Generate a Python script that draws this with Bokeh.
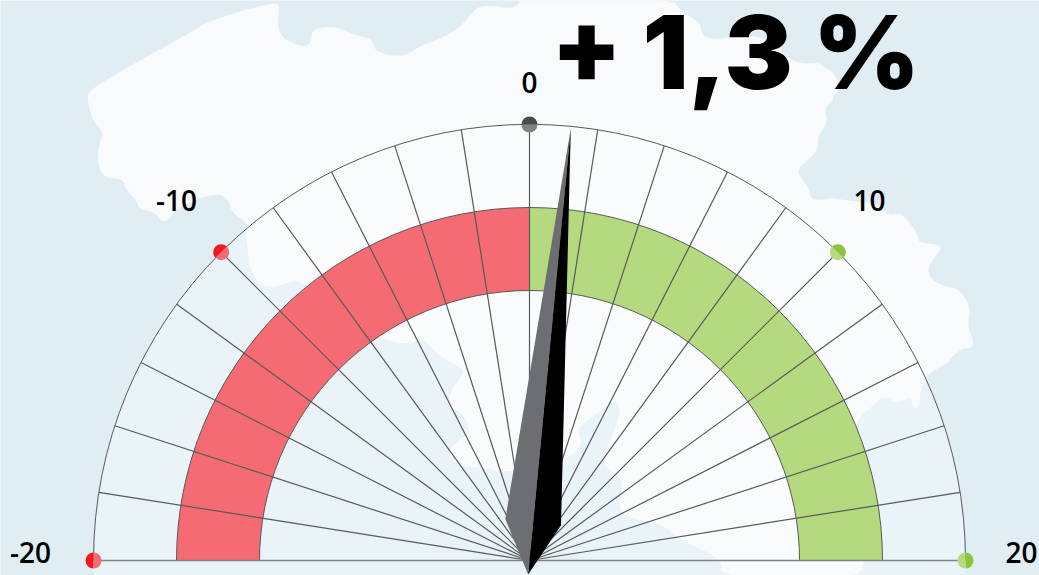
import math
from bokeh.plotting import figure
from bokeh.models import Range1d
from bokeh.core.properties import value
from bokeh.embed import file_html
from bokeh.resources import INLINE

W, H = 1039, 575

# Data
gauge_value = 1.3
headline = "+ 1,3 %"
scale_min, scale_max = -20, 20
spoke_values = list(range(-20, 21, 2))
label_values = [-20, -10, 0, 10, 20]
label_texts = ["-20", "-10", "0", "10", "20"]

# Colours
SEA = "#E0EDF3"
LAND = "#F8FAFC"
RED = "#F56B73"
GREEN = "#B5D97F"
LINE = "#58595B"
BASE = "#808285"
dot_dark = ["#ED1C24", "#ED1C24", "#4A4A4D", "#8CC63F", "#8CC63F"]
dot_light = ["#F56B73", "#F56B73", "#808285", "#B5DC7F", "#B5DC7F"]

# Layout (pixels, y measured from the top of the picture)
CX, CY = 529, 560
R_OUT, R_BAND_OUT, R_BAND_IN = 436, 353, 270
DEG_PER_UNIT = 180 / (scale_max - scale_min)
NEEDLE_DEG_PER_UNIT = 4.2
label_x = [30, 176, 529, 869, 1021]
label_y = [552, 200, 82, 200, 552]

# Backdrop map outline, clockwise from the north-west corner of the land
land_x = [88, 130, 185, 205, 235, 262, 277, 279, 277, 280, 290, 303, 309, 311, 312, 320, 335, 350, 370, 373,
          376, 390, 406, 418, 440, 458, 472, 478, 495, 508, 519, 519, 670, 682, 700, 701, 708, 725, 745, 770,
          790, 805, 818, 825, 832, 839, 839, 833, 832, 826, 825, 827, 817, 818, 813, 797, 800, 808, 810, 818,
          830, 847, 880, 887, 902, 918, 918, 938, 941, 933, 927, 930, 943, 957, 970, 967, 973, 972, 962, 953,
          947, 927, 923, 920, 919, 915, 912, 911, 903, 895, 887, 880, 875, 857, 848, 850, 855, 865, 853, 722,
          720, 680, 660, 623, 618, 622, 620, 600, 610, 620, 618, 610, 600, 578, 578, 582, 572, 563, 540, 507,
          483, 463, 448, 450, 463, 470, 463, 448, 450, 462, 463, 440, 423, 413, 397, 380, 340, 302, 293, 273,
          260, 248, 248, 245, 247, 232, 228, 220, 200, 172, 170, 162, 155, 138, 136, 126, 122, 105, 97, 98,
          103, 92, 87]
land_y = [90, 65, 35, 22, 12, 5, 2, 8, 22, 35, 42, 46, 44, 38, 30, 27, 26, 33, 38, 44,
          51, 55, 55, 46, 38, 28, 12, 6, 5, 8, 4, -3, -3, 12, 22, 34, 38, 38, 33, 40,
          60, 63, 62, 68, 71, 83, 90, 95, 102, 105, 112, 122, 137, 145, 155, 168, 177, 187, 197, 200,
          197, 200, 203, 215, 212, 235, 242, 244, 248, 258, 268, 278, 286, 287, 305, 327, 340, 347, 348, 355,
          363, 373, 383, 390, 405, 408, 405, 397, 400, 402, 397, 397, 403, 418, 450, 500, 540, 565, 578, 578,
          557, 540, 522, 517, 500, 487, 477, 463, 440, 413, 402, 402, 410, 427, 433, 443, 455, 458, 465, 472,
          467, 467, 457, 447, 437, 430, 413, 407, 390, 375, 368, 357, 338, 342, 343, 337, 310, 282, 280, 287,
          285, 267, 253, 233, 222, 213, 200, 193, 197, 210, 218, 222, 212, 208, 200, 190, 178, 178, 165, 145,
          132, 120, 100]


def flip(y):
    return H - y


def chaikin(xs, ys, rounds=2):
    pts = list(zip(xs, ys))
    for _ in range(rounds):
        out = []
        for i, a in enumerate(pts):
            b = pts[(i + 1) % len(pts)]
            out.append((0.75 * a[0] + 0.25 * b[0], 0.75 * a[1] + 0.25 * b[1]))
            out.append((0.25 * a[0] + 0.75 * b[0], 0.25 * a[1] + 0.75 * b[1]))
        pts = out
    return [p[0] for p in pts], [p[1] for p in pts]


def value_angle(v):
    """Math angle in radians for a gauge value."""
    return math.radians(90 - v * DEG_PER_UNIT)


p = figure(width=W, height=H, output_backend="svg", toolbar_location=None,
           x_range=Range1d(0, W), y_range=Range1d(0, H),
           min_border=0, min_border_left=0, min_border_right=0, min_border_top=0, min_border_bottom=0,
           background_fill_color=SEA, border_fill_color=SEA, outline_line_color=None)
p.axis.visible = False
p.grid.visible = False

cy = flip(CY)

# Map
lx, ly = chaikin(land_x, [flip(y) for y in land_y])
p.patch(lx, ly, fill_color=LAND, line_color=None)

# Translucent gauge face
face_kw = dict(fill_color="#FFFFFF", fill_alpha=0.33, line_color=None)
p.wedge(x=[CX], y=[cy], radius=[R_OUT], start_angle=[0], end_angle=[math.pi], **face_kw)
p.quad(left=[CX - R_OUT], right=[CX + R_OUT], top=[cy], bottom=[0], **face_kw)

# Red and green bands
band_kw = dict(x=[CX], y=[cy], inner_radius=[R_BAND_IN], outer_radius=[R_BAND_OUT], line_color=None)
p.annular_wedge(start_angle=[value_angle(0)], end_angle=[value_angle(scale_min)], fill_color=RED, **band_kw)
p.annular_wedge(start_angle=[value_angle(scale_max)], end_angle=[value_angle(0)], fill_color=GREEN, **band_kw)
for r in (R_BAND_IN, R_BAND_OUT, R_OUT):
    p.arc(x=[CX], y=[cy], radius=[r], start_angle=[0], end_angle=[math.pi], line_color=LINE, line_width=1)

# Spokes
inner = [v for v in spoke_values if scale_min < v < scale_max]
p.segment(x0=[CX] * len(inner), y0=[cy] * len(inner),
          x1=[CX + R_OUT * math.cos(value_angle(v)) for v in inner],
          y1=[cy + R_OUT * math.sin(value_angle(v)) for v in inner],
          line_color=LINE, line_width=1.2)
p.segment(x0=[CX + R_OUT * math.cos(value_angle(scale_min))], y0=[cy],
          x1=[CX + R_OUT * math.cos(value_angle(scale_max))], y1=[cy],
          line_color=BASE, line_width=1.6)

# Needle: tip, shoulders and tail placed along the direction given by the value
needle = math.radians(90 - gauge_value * NEEDLE_DEG_PER_UNIT)


def needle_pt(u, v):
    return (CX + u * math.cos(needle) + v * math.sin(needle),
            cy + u * math.sin(needle) - v * math.cos(needle))


tip, tail = needle_pt(R_OUT - 2, 0), needle_pt(-14, 0)
left, right = needle_pt(39, -28), needle_pt(38, 28)
p.patch([tip[0], left[0], tail[0]], [tip[1], left[1], tail[1]], fill_color="#6D6E71", line_color=None)
p.patch([tip[0], right[0], tail[0]], [tip[1], right[1], tail[1]], fill_color="#000000", line_color=None)

# Two-tone dots at the labelled values (dark half faces outwards)
for v, dark, light in zip(label_values, dot_dark, dot_light):
    a = value_angle(v)
    x, y = CX + R_OUT * math.cos(a), cy + R_OUT * math.sin(a)
    p.wedge(x=[x], y=[y], radius=[8], start_angle=[a - math.pi / 2], end_angle=[a + math.pi / 2],
            fill_color=dark, line_color=None)
    p.wedge(x=[x], y=[y], radius=[8], start_angle=[a + math.pi / 2], end_angle=[a + 3 * math.pi / 2],
            fill_color=light, line_color=None)

# Texts
p.text(x=label_x, y=[flip(y) for y in label_y], text=label_texts, text_align="center", text_baseline="middle",
       text_font=value("Open Sans SemiBold"), text_font_size="28px", text_color="#000000")
p.text(x=[735], y=[flip(51)], text=[headline], text_align="center", text_baseline="alphabetic",
       text_font=value("Inter Black"), text_font_size="102px", text_color="#000000")

open("out.html", "w").write(file_html(p, INLINE))
